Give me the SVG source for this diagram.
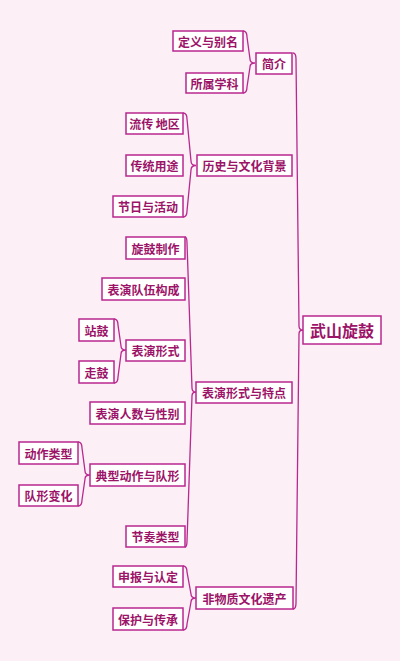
<svg xmlns="http://www.w3.org/2000/svg" width="400" height="661" viewBox="0 0 400 661">
<style>
.bg{fill:#fdeff6}
.box{fill:#ffffff;stroke:#b8288e;stroke-width:1.5}
.sh{fill:#d6a6c8}
.t{font-family:"Noto Sans CJK SC","Noto Sans",sans-serif;font-weight:bold;font-size:12px;fill:#9c1468;text-anchor:middle;dominant-baseline:central}
.root{font-size:16px}
.c{fill:none;stroke:#b8288e;stroke-width:1.3}
</style>
<rect class="bg" x="0" y="0" width="400" height="661"/>
<g id="connectors">
<path class="c" d="M293,53 Q296,53 296,59 L299,326 Q299,330 303,330 Q299,330 299,334 L296,603 Q296,609 293,609"/>
<path class="c" d="M243,31 Q247,31 247,37 L250,59 Q250,63 255,63 Q250,63 250,67 L247,87 Q247,93 243,93"/>
<path class="c" d="M183,113 Q187,113 187,119 L191,161 Q191,165.5 196,165.5 Q191,165.5 191,170 L187,211 Q187,217 183,217"/>
<path class="c" d="M185,237 Q187,237 187,243 L192,388 Q192,392 196,392 Q192,392 192,396 L187,541 Q187,547 185,547"/>
<path class="c" d="M114,319 Q118,319 118,325 L121,346 Q121,350 126,350 Q121,350 121,354 L118,377 Q118,383 114,383"/>
<path class="c" d="M78,442 Q82,442 82,448 L85,471 Q85,475 90,475 Q85,475 85,479 L82,500 Q82,506 78,506"/>
<path class="c" d="M183,566 Q187,566 187,572 L191,594 Q191,598 196,598 Q191,598 191,602 L187,624 Q187,630 183,630"/>
</g>
<g id="root">
<rect class="box" x="303" y="316" width="78" height="28"/>
<text class="t root" x="342" y="330">武山旋鼓</text>
</g>
<g id="n-jianjie">
<rect class="box" x="256" y="53" width="36" height="21"/>
<text class="t" x="274" y="63.5">简介</text>
</g>
<g id="n-dingyi">
<rect class="box" x="173" y="31" width="70" height="20"/>
<text class="t" x="208" y="41">定义与别名</text>
</g>
<g id="n-suoshu">
<rect class="box" x="186" y="73" width="57" height="20"/>
<text class="t" x="214.5" y="83">所属学科</text>
</g>
<g id="n-lishi">
<rect class="box" x="197" y="155" width="95" height="21"/>
<text class="t" x="244.5" y="165.5">历史与文化背景</text>
</g>
<g id="n-liuchuan">
<rect class="box" x="126" y="113" width="57" height="21"/>
<text class="t" x="154.5" y="123.5">流传 地区</text>
</g>
<g id="n-chuantong">
<rect class="box" x="126" y="155" width="57" height="21"/>
<text class="t" x="154.5" y="165.5">传统用途</text>
</g>
<g id="n-jieri">
<rect class="box" x="113" y="196" width="70" height="21"/>
<text class="t" x="148" y="206.5">节日与活动</text>
</g>
<g id="n-biaoyan">
<rect class="box" x="196" y="382" width="96" height="21"/>
<text class="t" x="244" y="392.5">表演形式与特点</text>
</g>
<g id="n-xuangu">
<rect class="box" x="126" y="237" width="59" height="22"/>
<text class="t" x="155.5" y="248">旋鼓制作</text>
</g>
<g id="n-duiwu">
<rect class="box" x="102" y="278" width="83" height="22"/>
<text class="t" x="143.5" y="289">表演队伍构成</text>
</g>
<g id="n-xingshi">
<rect class="box" x="126" y="340" width="59" height="21"/>
<text class="t" x="155.5" y="350.5">表演形式</text>
</g>
<g id="n-zhangu">
<rect class="box" x="79" y="319" width="35" height="22"/>
<text class="t" x="96.5" y="330">站鼓</text>
</g>
<g id="n-zougu">
<rect class="box" x="79" y="361" width="35" height="22"/>
<text class="t" x="96.5" y="372">走鼓</text>
</g>
<g id="n-renshu">
<rect class="box" x="90" y="402" width="95" height="22"/>
<text class="t" x="137.5" y="413">表演人数与性别</text>
</g>
<g id="n-dongzuo">
<rect class="box" x="90" y="464" width="95" height="22"/>
<text class="t" x="137.5" y="475">典型动作与队形</text>
</g>
<g id="n-leixing">
<rect class="box" x="19" y="442" width="59" height="22"/>
<text class="t" x="48.5" y="453">动作类型</text>
</g>
<g id="n-duixing">
<rect class="box" x="19" y="485" width="59" height="21"/>
<text class="t" x="48.5" y="495.5">队形变化</text>
</g>
<g id="n-jiezou">
<rect class="box" x="126" y="526" width="59" height="21"/>
<text class="t" x="155.5" y="536.5">节奏类型</text>
</g>
<g id="n-feiwuzhi">
<rect class="box" x="196" y="587" width="97" height="22"/>
<text class="t" x="244.5" y="598">非物质文化遗产</text>
</g>
<g id="n-shenbao">
<rect class="box" x="113" y="566" width="70" height="21"/>
<text class="t" x="148" y="576.5">申报与认定</text>
</g>
<g id="n-baohu">
<rect class="box" x="113" y="608" width="70" height="22"/>
<text class="t" x="148" y="619">保护与传承</text>
</g>
</svg>
